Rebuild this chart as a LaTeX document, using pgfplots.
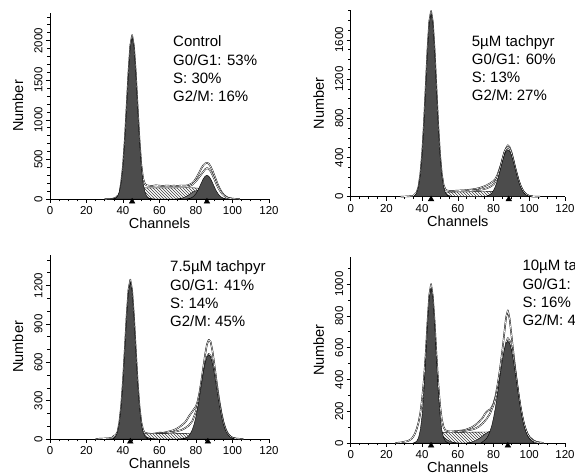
\documentclass[border=0pt]{standalone}
\usepackage{pgfplots}
\pgfplotsset{compat=1.18}
\usepackage{fontspec}
\setmainfont{Liberation Sans}
\usetikzlibrary{patterns}

\definecolor{peak}{gray}{0.30}
\definecolor{hump}{gray}{0.42}

\tikzset{lab/.style={anchor=base west, inner sep=0pt, font=\fontsize{15}{18}\selectfont}}

\pgfplotsset{
  cyto/.style={
    scale only axis,
    anchor=south west,
    axis lines=left,
    axis line style={-, line width=0.8pt},
    xmin=0, xmax=120, ymin=0,
    clip=false,
    xtick={0,20,...,120},
    minor xtick={0,5,...,120},
    tick align=outside,
    major tick length=4pt,
    minor tick length=2.5pt,
    every tick/.style={black, line width=0.6pt},
    tick label style={font=\fontsize{11.5}{12}\selectfont},
    yticklabel style={rotate=90, anchor=south},
    /pgf/number format/assume math mode=true,
    /pgf/number format/1000 sep={},
    scaled y ticks=false,
    xlabel={Channels},
    ylabel={Number},
    every axis x label/.style={at={([yshift=-24.5pt]axis description cs:0.5,0)}, anchor=center,
      font=\fontsize{14.5}{15}\selectfont},
    every axis y label/.style={at={([xshift=-32pt]axis description cs:0,0.5)}, anchor=center, rotate=90,
      font=\fontsize{14.5}{15}\selectfont},
  },
  swhite/.style={draw=none, fill=white},
  shatch/.style={draw=black, line width=0.4pt, pattern=north west lines, pattern color=black!75},
  humpfill/.style={draw=black, line width=0.4pt, fill=hump},
  peakfill/.style={draw=black, line width=0.4pt, fill=peak},
  outer/.style={draw=black, line width=1.5pt, fill=none, line join=round},
  inner/.style={draw=white, line width=0.6pt, fill=none, line join=round},
  tri/.style={only marks, mark=triangle*, mark size=3.3pt, mark options={yshift=-2.6pt, fill=black, draw=black}},
}

\begin{document}
\begin{tikzpicture}
\useasboundingbox (0,0) rectangle (575pt,473pt);
\clip (0,0) rectangle (575pt,473pt);

% ---------------- Control
\begin{axis}[cyto, at={(50pt,274pt)}, width=219pt, height=186.1pt,
  ymax=2350, ytick={0,500,...,2000}, minor ytick={0,100,...,2300}]
% measured histogram and model sum (white lines), drawn first
\addplot[outer] coordinates {(30,0) (34,2) (36,15) (38,60) (39,210) (40,420) (41,750) (42,1170) (43,1600) (44,1940) (45,2070) (46,1930) (47,1600) (48,1170) (49,760) (50,440) (51,260) (52,190) (53,172) (54,168) (56,165) (58,172) (60,168) (62,165) (64,170) (66,166) (68,168) (70,165) (72,170) (74,168) (76,175) (78,200) (79,225) (80,260) (81,300) (82,345) (83,390) (84,425) (85,448) (86,458) (87,445) (88,410) (89,360) (90,300) (91,240) (92,180) (93,130) (94,90) (95,60) (96,38) (97,22) (98,12) (100,4) (104,0)};
\addplot[inner] coordinates {(30,0) (34,2) (36,15) (38,60) (39,210) (40,420) (41,750) (42,1170) (43,1600) (44,1940) (45,2070) (46,1930) (47,1600) (48,1170) (49,760) (50,440) (51,260) (52,190) (53,172) (54,168) (56,165) (58,172) (60,168) (62,165) (64,170) (66,166) (68,168) (70,165) (72,170) (74,168) (76,175) (78,200) (79,225) (80,260) (81,300) (82,345) (83,390) (84,425) (85,448) (86,458) (87,445) (88,410) (89,360) (90,300) (91,240) (92,180) (93,130) (94,90) (95,60) (96,38) (97,22) (98,12) (100,4) (104,0)};
\addplot[outer] coordinates {(74,155) (76,160) (78,180) (80,225) (82,285) (84,345) (85,375) (86,390) (87,380) (88,350) (89,305) (90,255) (91,200) (92,150) (93,110) (94,75) (95,50) (96,30) (97,18) (98,9) (100,2)};
\addplot[inner] coordinates {(74,155) (76,160) (78,180) (80,225) (82,285) (84,345) (85,375) (86,390) (87,380) (88,350) (89,305) (90,255) (91,200) (92,150) (93,110) (94,75) (95,50) (96,30) (97,18) (98,9) (100,2)};
% fitted components
\addplot[swhite] coordinates {(42,0) (45,110) (48,135) (52,140) (78,142) (82,135) (85,110) (88,0)} \closedcycle;
\addplot[shatch] coordinates {(42,0) (45,110) (48,135) (52,140) (78,142) (82,135) (85,110) (88,0)} \closedcycle;
\addplot[humpfill] coordinates {(33,0) (35,6) (37,18) (39,42) (41,79) (43,115) (45,130) (47,115) (49,79) (51,42) (53,18) (55,6) (57,0)} \closedcycle;
\addplot[humpfill] coordinates {(69,0) (71,5) (73,15) (75,36) (77,67) (79,97) (81,110) (83,97) (85,67) (87,36) (89,15) (91,5) (93,0)} \closedcycle;
\addplot[peakfill] coordinates {(35,0) (36,12) (37,35) (38,90) (39,206) (40,416) (41,739) (42,1155) (43,1588) (44,1923) (45,2050) (46,1923) (47,1588) (48,1155) (49,739) (50,416) (51,206) (52,90) (53,35) (54,12) (55,0)} \closedcycle;
\addplot[peakfill] coordinates {(75,0) (76,5) (77,11) (78,22) (79,41) (80,69) (81,108) (82,156) (83,208) (84,255) (85,288) (86,300) (87,288) (88,255) (89,208) (90,156) (91,108) (92,69) (93,41) (94,22) (95,11) (96,5) (97,0)} \closedcycle;
\addplot[tri] coordinates {(45,0) (86,0)};
\node[lab] at (axis cs:67.4,1923) {Control};
\node[lab, yshift=-18.3pt] at (axis cs:67.4,1923) {G0/G1: 53\%};
\node[lab, yshift=-36.6pt] at (axis cs:67.4,1923) {S: 30\%};
\node[lab, yshift=-54.9pt] at (axis cs:67.4,1923) {G2/M: 16\%};
\end{axis}

% ---------------- 5 uM
\begin{axis}[cyto, at={(350.7pt,276.3pt)}, width=214.3pt, height=186.2pt,
  ymax=1900, ytick={0,400,...,1600}, minor ytick={0,100,...,1900}]
\addplot[outer] coordinates {(28,0) (32,3) (35,8) (37,45) (38,105) (39,230) (40,435) (41,740) (42,1120) (43,1500) (44,1790) (45,1895) (46,1780) (47,1490) (48,1110) (49,735) (50,435) (51,235) (52,120) (53,75) (54,62) (56,58) (58,60) (60,62) (62,64) (64,66) (66,70) (68,74) (70,80) (72,88) (74,100) (76,115) (78,135) (80,160) (81,180) (82,215) (83,265) (84,320) (85,385) (86,445) (87,495) (88,525) (89,505) (90,455) (91,385) (92,305) (93,235) (94,170) (95,118) (96,78) (97,48) (98,28) (99,15) (100,8) (102,2) (106,0)};
\addplot[inner] coordinates {(28,0) (32,3) (35,8) (37,45) (38,105) (39,230) (40,435) (41,740) (42,1120) (43,1500) (44,1790) (45,1895) (46,1780) (47,1490) (48,1110) (49,735) (50,435) (51,235) (52,120) (53,75) (54,62) (56,58) (58,60) (60,62) (62,64) (64,66) (66,70) (68,74) (70,80) (72,88) (74,100) (76,115) (78,135) (80,160) (81,180) (82,215) (83,265) (84,320) (85,385) (86,445) (87,495) (88,525) (89,505) (90,455) (91,385) (92,305) (93,235) (94,170) (95,118) (96,78) (97,48) (98,28) (99,15) (100,8) (102,2) (106,0)};
\addplot[outer] coordinates {(66,62) (70,66) (74,75) (76,85) (78,100) (80,125) (82,185) (84,310) (86,455) (87,490) (88,505) (89,490) (90,445) (91,375) (92,300) (93,230) (94,165) (95,115) (96,75) (97,46) (98,27) (100,8) (102,2)};
\addplot[inner] coordinates {(66,62) (70,66) (74,75) (76,85) (78,100) (80,125) (82,185) (84,310) (86,455) (87,490) (88,505) (89,490) (90,445) (91,375) (92,300) (93,230) (94,165) (95,115) (96,75) (97,46) (98,27) (100,8) (102,2)};
\addplot[swhite] coordinates {(44,0) (48,40) (52,45) (80,55) (86,40) (90,0)} \closedcycle;
\addplot[shatch] coordinates {(44,0) (48,40) (52,45) (80,55) (86,40) (90,0)} \closedcycle;
\addplot[humpfill] coordinates {(36,0) (38,2) (40,6) (42,15) (44,27) (46,40) (48,45) (50,40) (52,27) (54,15) (56,6) (58,2) (60,0)} \closedcycle;
\addplot[humpfill] coordinates {(72,0) (74,2) (76,6) (78,15) (80,27) (82,40) (84,45) (86,40) (88,27) (90,15) (92,6) (94,2) (96,0)} \closedcycle;
\addplot[peakfill] coordinates {(35,0) (36,15) (37,41) (38,102) (39,222) (40,425) (41,726) (42,1102) (43,1481) (44,1771) (45,1880) (46,1771) (47,1481) (48,1102) (49,726) (50,425) (51,222) (52,102) (53,41) (54,15) (55,0)} \closedcycle;
\addplot[peakfill] coordinates {(75,0) (76,5) (77,11) (78,21) (79,38) (80,65) (81,104) (82,156) (83,220) (84,291) (85,362) (86,424) (87,465) (88,480) (89,465) (90,424) (91,362) (92,291) (93,220) (94,156) (95,104) (96,65) (97,38) (98,21) (99,11) (100,5) (101,0)} \closedcycle;
\addplot[tri] coordinates {(45,0) (88.5,0)};
\node[lab] at (axis cs:67.75,1531) {5µM tachpyr};
\node[lab, yshift=-18pt] at (axis cs:67.75,1531) {G0/G1: 60\%};
\node[lab, yshift=-36pt] at (axis cs:67.75,1531) {S: 13\%};
\node[lab, yshift=-54pt] at (axis cs:67.75,1531) {G2/M: 27\%};
\end{axis}

% ---------------- 7.5 uM
\begin{axis}[cyto, at={(50pt,34pt)}, width=219pt, height=184.3pt,
  ymax=1440, ytick={0,300,...,1200}, minor ytick={0,100,...,1400}]
\addplot[outer] coordinates {(25,0) (28,3) (32,5) (34,10) (35,25) (36,30) (37,55) (38,130) (39,260) (40,455) (41,705) (42,965) (43,1165) (44,1245) (45,1160) (46,960) (47,700) (48,450) (49,260) (50,135) (51,70) (52,48) (54,42) (56,40) (58,44) (60,50) (62,48) (64,55) (66,62) (68,70) (70,85) (72,105) (74,130) (75,150) (76,175) (77,195) (78,215) (79,235) (80,255) (81,300) (82,370) (83,460) (84,560) (85,660) (86,740) (87,775) (88,760) (89,690) (90,590) (91,480) (92,375) (93,280) (94,200) (95,135) (96,88) (97,55) (98,32) (99,18) (100,10) (102,3) (106,0)};
\addplot[inner] coordinates {(25,0) (28,3) (32,5) (34,10) (35,25) (36,30) (37,55) (38,130) (39,260) (40,455) (41,705) (42,965) (43,1165) (44,1245) (45,1160) (46,960) (47,700) (48,450) (49,260) (50,135) (51,70) (52,48) (54,42) (56,40) (58,44) (60,50) (62,48) (64,55) (66,62) (68,70) (70,85) (72,105) (74,130) (75,150) (76,175) (77,195) (78,215) (79,235) (80,255) (81,300) (82,370) (83,460) (84,560) (85,660) (86,740) (87,775) (88,760) (89,690) (90,590) (91,480) (92,375) (93,280) (94,200) (95,135) (96,88) (97,55) (98,32) (99,18) (100,10) (102,3) (106,0)};
\addplot[outer] coordinates {(60,45) (64,48) (68,55) (72,70) (74,85) (76,105) (78,140) (80,215) (82,330) (84,500) (85,580) (86,640) (87,665) (88,650) (89,600) (90,525) (91,435) (92,345) (93,260) (94,185) (95,125) (96,80) (97,48) (98,28) (100,8) (102,2)};
\addplot[inner] coordinates {(60,45) (64,48) (68,55) (72,70) (74,85) (76,105) (78,140) (80,215) (82,330) (84,500) (85,580) (86,640) (87,665) (88,650) (89,600) (90,525) (91,435) (92,345) (93,260) (94,185) (95,125) (96,80) (97,48) (98,28) (100,8) (102,2)};
\addplot[swhite] coordinates {(42,0) (46,35) (50,40) (78,45) (84,30) (90,0)} \closedcycle;
\addplot[shatch] coordinates {(42,0) (46,35) (50,40) (78,45) (84,30) (90,0)} \closedcycle;
\addplot[humpfill] coordinates {(35,0) (37,2) (39,5) (41,13) (43,24) (45,35) (47,40) (49,35) (51,24) (53,13) (55,5) (57,2) (59,0)} \closedcycle;
\addplot[humpfill] coordinates {(70,0) (72,2) (74,7) (76,16) (78,30) (80,44) (82,50) (84,44) (86,30) (88,16) (90,7) (92,2) (94,0)} \closedcycle;
\addplot[peakfill] coordinates {(34,0) (35,7) (36,21) (37,54) (38,124) (39,250) (40,443) (41,692) (42,953) (43,1154) (44,1230) (45,1154) (46,953) (47,692) (48,443) (49,250) (50,124) (51,54) (52,21) (53,7) (54,0)} \closedcycle;
\addplot[peakfill] coordinates {(73,0) (74,7) (75,13) (76,25) (77,44) (78,74) (79,117) (80,176) (81,249) (82,335) (83,428) (84,517) (85,593) (86,642) (87,660) (88,642) (89,593) (90,517) (91,428) (92,335) (93,249) (94,176) (95,117) (96,74) (97,44) (98,25) (99,13) (100,7) (101,0)} \closedcycle;
\addplot[tri] coordinates {(44,0) (86.5,0)};
\node[lab] at (axis cs:65.75,1305) {7.5µM tachpyr};
\node[lab, yshift=-18.3pt] at (axis cs:65.75,1305) {G0/G1: 41\%};
\node[lab, yshift=-36.6pt] at (axis cs:65.75,1305) {S: 14\%};
\node[lab, yshift=-54.9pt] at (axis cs:65.75,1305) {G2/M: 45\%};
\end{axis}

% ---------------- 10 uM
\begin{axis}[cyto, at={(350.7pt,30pt)}, width=214.3pt, height=186pt,
  ymax=1170, ytick={0,200,...,1000}, minor ytick={0,100,...,1100}]
\addplot[outer] coordinates {(25,0) (28,3) (30,8) (32,12) (34,25) (35,40) (36,60) (37,90) (38,130) (39,190) (40,280) (41,400) (42,560) (43,760) (44,930) (45,1000) (46,920) (47,760) (48,560) (49,380) (50,240) (51,150) (52,100) (53,80) (54,75) (56,72) (58,74) (60,76) (62,78) (64,82) (66,90) (68,100) (70,115) (72,135) (74,160) (75,180) (76,195) (77,205) (78,210) (79,225) (80,250) (81,290) (82,350) (83,420) (84,500) (85,590) (86,690) (87,790) (88,835) (89,780) (90,680) (91,580) (92,480) (93,390) (94,305) (95,230) (96,170) (97,120) (98,85) (99,58) (100,40) (102,18) (104,7) (108,0)};
\addplot[inner] coordinates {(25,0) (28,3) (30,8) (32,12) (34,25) (35,40) (36,60) (37,90) (38,130) (39,190) (40,280) (41,400) (42,560) (43,760) (44,930) (45,1000) (46,920) (47,760) (48,560) (49,380) (50,240) (51,150) (52,100) (53,80) (54,75) (56,72) (58,74) (60,76) (62,78) (64,82) (66,90) (68,100) (70,115) (72,135) (74,160) (75,180) (76,195) (77,205) (78,210) (79,225) (80,250) (81,290) (82,350) (83,420) (84,500) (85,590) (86,690) (87,790) (88,835) (89,780) (90,680) (91,580) (92,480) (93,390) (94,305) (95,230) (96,170) (97,120) (98,85) (99,58) (100,40) (102,18) (104,7) (108,0)};
\addplot[outer] coordinates {(60,72) (64,76) (68,85) (70,92) (72,105) (74,125) (76,150) (78,185) (80,240) (82,320) (84,420) (85,480) (86,560) (87,630) (88,660) (89,645) (90,600) (91,540) (92,465) (93,385) (94,305) (95,235) (96,172) (97,122) (98,84) (99,56) (100,37) (102,15) (104,5) (106,0)};
\addplot[inner] coordinates {(60,72) (64,76) (68,85) (70,92) (72,105) (74,125) (76,150) (78,185) (80,240) (82,320) (84,420) (85,480) (86,560) (87,630) (88,660) (89,645) (90,600) (91,540) (92,465) (93,385) (94,305) (95,235) (96,172) (97,122) (98,84) (99,56) (100,37) (102,15) (104,5) (106,0)};
\addplot[swhite] coordinates {(42,0) (46,55) (50,65) (80,70) (86,50) (92,0)} \closedcycle;
\addplot[shatch] coordinates {(42,0) (46,55) (50,65) (80,70) (86,50) (92,0)} \closedcycle;
\addplot[humpfill] coordinates {(36,0) (38,3) (40,8) (42,20) (44,36) (46,53) (48,60) (50,53) (52,36) (54,20) (56,8) (58,3) (60,0)} \closedcycle;
\addplot[humpfill] coordinates {(65,0) (67,4) (69,10) (71,21) (73,37) (75,54) (77,69) (79,75) (81,69) (83,54) (85,37) (87,21) (89,10) (91,4) (93,1) (95,0)} \closedcycle;
\addplot[peakfill] coordinates {(35,0) (36,4) (37,12) (38,34) (39,83) (40,176) (41,327) (42,528) (43,745) (44,915) (45,980) (46,915) (47,745) (48,528) (49,327) (50,176) (51,83) (52,34) (53,12) (54,4) (55,0)} \closedcycle;
\addplot[peakfill] coordinates {(73,0) (74,9) (75,17) (76,28) (77,46) (78,73) (79,110) (80,159) (81,221) (82,293) (83,372) (84,452) (85,527) (86,587) (87,627) (88,640) (89,627) (90,587) (91,527) (92,452) (93,372) (94,293) (95,221) (96,159) (97,110) (98,73) (99,46) (100,28) (101,17) (102,9) (103,0)} \closedcycle;
\addplot[tri] coordinates {(45,0) (88,0)};
\node[lab] at (axis cs:96.1,1082) {10µM tachpyr};
\node[lab, yshift=-18.3pt] at (axis cs:96.1,1082) {G0/G1: 38\%};
\node[lab, yshift=-36.6pt] at (axis cs:96.1,1082) {S: 16\%};
\node[lab, yshift=-54.9pt] at (axis cs:96.1,1082) {G2/M: 46\%};
\end{axis}
\end{tikzpicture}
\end{document}
